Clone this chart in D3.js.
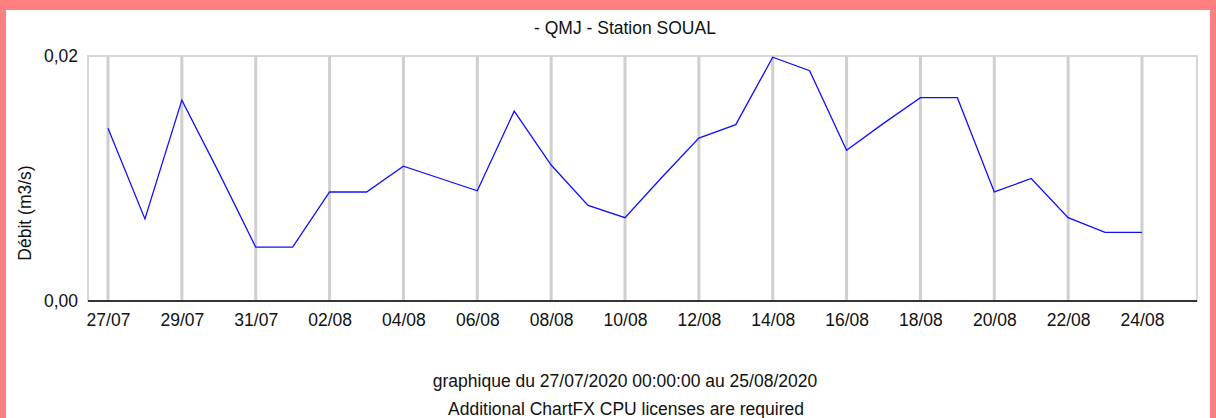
<!DOCTYPE html>
<html>
<head>
<meta charset="utf-8">
<script src="https://cdn.jsdelivr.net/npm/d3@7"></script>
<style>
  html, body { margin: 0; padding: 0; background: #ff8080; }
  svg { display: block; }
  text { font-family: "Liberation Sans", Arial, sans-serif; fill: #111; }
</style>
</head>
<body>
<svg id="chart" width="1216" height="418"></svg>
<script>
// daily values, 27/07/2020 -> 24/08/2020
const days = [
  "2020-07-27", "2020-07-28", "2020-07-29", "2020-07-30", "2020-07-31",
  "2020-08-01", "2020-08-02", "2020-08-03", "2020-08-04", "2020-08-05",
  "2020-08-06", "2020-08-07", "2020-08-08", "2020-08-09", "2020-08-10",
  "2020-08-11", "2020-08-12", "2020-08-13", "2020-08-14", "2020-08-15",
  "2020-08-16", "2020-08-17", "2020-08-18", "2020-08-19", "2020-08-20",
  "2020-08-21", "2020-08-22", "2020-08-23", "2020-08-24"
];
const debit = [
  0.0141, 0.0067, 0.0164, 0.0105, 0.0044,
  0.0044, 0.0089, 0.0089, 0.0110, 0.0100,
  0.0090, 0.0155, 0.0111, 0.0078, 0.0068,
  0.0101, 0.0133, 0.0144, 0.0199, 0.0188,
  0.0123, 0.0145, 0.0166, 0.0166, 0.0089,
  0.0100, 0.0068, 0.0056, 0.0056
];
const tickDays = [
  "2020-07-27", "2020-07-29", "2020-07-31", "2020-08-02", "2020-08-04",
  "2020-08-06", "2020-08-08", "2020-08-10", "2020-08-12", "2020-08-14",
  "2020-08-16", "2020-08-18", "2020-08-20", "2020-08-22", "2020-08-24"
];
const yTicks = [0, 0.02];

const title = "- QMJ - Station SOUAL";
const yTitle = "Débit (m3/s)";
const footer1 = "graphique du 27/07/2020 00:00:00 au 25/08/2020";
const footer2 = "Additional ChartFX CPU licenses are required";

const parse = d3.utcParse("%Y-%m-%d");
const data = days.map((d, i) => ({ date: parse(d), value: debit[i] }));
const ticks = tickDays.map(parse);

const svg = d3.select("#chart");
const frame = { left: 88, right: 1197, top: 56, bottom: 301 };

// white page inside the pink border
svg.append("rect")
    .attr("x", 6).attr("y", 10)
    .attr("width", 1204).attr("height", 408)
    .attr("fill", "#fff");

const x = d3.scaleUtc()
    .domain([ticks[0], ticks[ticks.length - 1]])
    .range([108, 1142]);
const y = d3.scaleLinear().domain([0, 0.02]).range([frame.bottom, frame.top]);

const fr = d3.formatLocale({ decimal: ",", thousands: " ", grouping: [3], currency: ["", "€"] });

// frame
svg.append("rect")
    .attr("x", frame.left).attr("y", frame.top)
    .attr("width", frame.right - frame.left)
    .attr("height", frame.bottom - frame.top)
    .attr("fill", "none")
    .attr("stroke", "#d6d6d6")
    .attr("stroke-width", 2);

// vertical grid
svg.selectAll(".grid")
    .data(ticks)
    .enter().append("line")
    .attr("class", "grid")
    .attr("x1", d => x(d)).attr("x2", d => x(d))
    .attr("y1", frame.top).attr("y2", frame.bottom)
    .attr("stroke", "#cfcfcf")
    .attr("stroke-width", 3);

// x axis
const xAxis = svg.append("g")
    .attr("transform", `translate(0, ${frame.bottom})`)
    .call(d3.axisBottom(x).tickValues(ticks).tickFormat(d3.utcFormat("%d/%m")).tickSize(0).tickPadding(13));
xAxis.select(".domain").remove();
xAxis.append("line")
    .attr("x1", frame.left).attr("x2", frame.right)
    .attr("stroke", "#333").attr("stroke-width", 2);

// y axis
const yAxis = svg.append("g")
    .attr("transform", `translate(${frame.left}, 0)`)
    .call(d3.axisLeft(y).tickValues(yTicks).tickFormat(fr.format(".2f")).tickSize(0).tickPadding(10));
yAxis.select(".domain").remove();

svg.selectAll(".tick text")
    .style("font-size", "17.5px")
    .style("font-family", "'Liberation Sans', Arial, sans-serif")
    .attr("fill", "#111");

// line
svg.append("path")
    .datum(data)
    .attr("fill", "none")
    .attr("stroke", "#1010ff")
    .attr("stroke-width", 1.3)
    .attr("d", d3.line().x(d => x(d.date)).y(d => y(d.value)));

// texts
svg.append("text")
    .attr("x", 625).attr("y", 34)
    .attr("text-anchor", "middle")
    .style("font-size", "17.5px")
    .text(title);

svg.append("text")
    .attr("transform", "translate(31, 213) rotate(-90)")
    .attr("text-anchor", "middle")
    .style("font-size", "17.5px")
    .text(yTitle);

svg.append("text")
    .attr("x", 625).attr("y", 387)
    .attr("text-anchor", "middle")
    .style("font-size", "17.5px")
    .text(footer1);

svg.append("text")
    .attr("x", 626).attr("y", 415)
    .attr("text-anchor", "middle")
    .style("font-size", "17.5px")
    .text(footer2);
</script>
</body>
</html>
